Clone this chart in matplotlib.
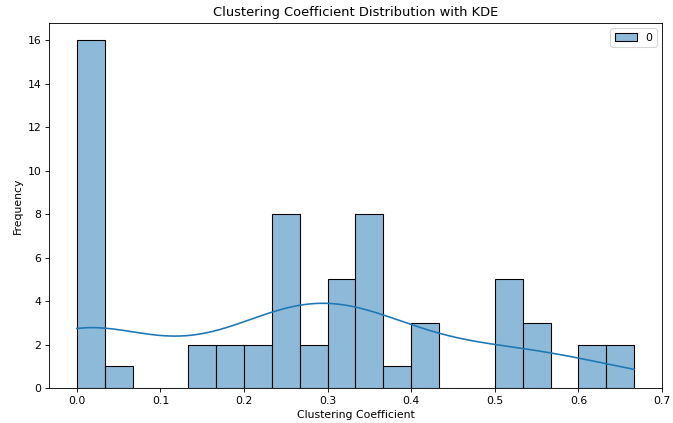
import numpy as np
import pandas as pd
import matplotlib
matplotlib.use("Agg")
import matplotlib.pyplot as plt
import seaborn as sns

# Representative clustering coefficient values (one per occupied bin) and their counts
coef_values = [0.0, 0.04, 0.143, 0.17, 0.21, 0.25, 0.27, 0.305, 0.34, 0.375, 0.41,
               0.505, 0.54, 0.61, 2/3]
coef_counts = [16, 1, 2, 2, 2, 8, 2, 5, 8, 1, 3, 5, 3, 2, 2]

data = pd.DataFrame({0: np.repeat(coef_values, coef_counts)})

dpi = 78.3
fig = plt.figure(figsize=(673 / dpi, 423 / dpi), dpi=dpi)
ax = fig.add_axes([49 / 673, 1 - 388 / 423, (662 - 49) / 673, (388 - 23) / 423])
sns.histplot(data=data, bins=20, kde=True, ax=ax)
ax.set_title("Clustering Coefficient Distribution with KDE")
ax.set_xlabel("Clustering Coefficient")
ax.set_ylabel("Frequency")
ax.set_xlim(-0.0333, 0.7)
fig.savefig("out.png", dpi=dpi)
